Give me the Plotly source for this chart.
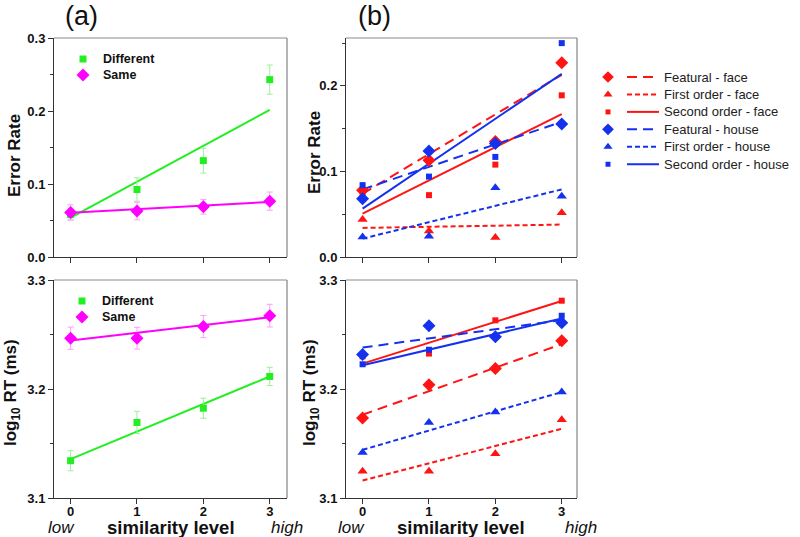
import plotly.graph_objects as go

# ---------------- data ----------------
levels = [0, 1, 2, 3]
fit_x = [0, 3]

# panel (a) error rate
a_err_diff = [0.058, 0.0925, 0.132, 0.243]
a_err_diff_sd = [0.007, 0.016, 0.017, 0.020]
a_err_same = [0.061, 0.063, 0.0687, 0.0765]
a_err_same_sd = [0.0105, 0.012, 0.010, 0.0125]
a_err_diff_fit = [0.054, 0.2015]
a_err_same_fit = [0.0607, 0.0755]

# panel (a) log RT
a_rt_diff = [3.1342, 3.1693, 3.1824, 3.2115]
a_rt_diff_sd = [0.0092, 0.0102, 0.0092, 0.0084]
a_rt_same = [3.2466, 3.2466, 3.2573, 3.2673]
a_rt_same_sd = [0.0102, 0.010, 0.0102, 0.0104]
a_rt_diff_fit = [3.1357, 3.2115]
a_rt_same_fit = [3.2444, 3.2658]

# panel (b) series names
b_names = ["Featural - face", "First order - face", "Second order - face",
           "Featural - house", "First order - house", "Second order - house"]

# panel (b) error rate
b_err_feat_face = [0.078, 0.113, 0.135, 0.227]
b_err_first_face = [0.0438, 0.0305, 0.0227, 0.0516]
b_err_second_face = [0.073, 0.0723, 0.108, 0.189]
b_err_feat_house = [0.068, 0.124, 0.1328, 0.1555]
b_err_first_house = [0.0234, 0.0242, 0.0809, 0.0711]
b_err_second_house = [0.084, 0.094, 0.117, 0.250]

b_err_feat_face_fit = [0.074, 0.213]
b_err_first_face_fit = [0.034, 0.0379]
b_err_second_face_fit = [0.0508, 0.167]
b_err_feat_house_fit = [0.079, 0.158]
b_err_first_house_fit = [0.0215, 0.079]
b_err_second_house_fit = [0.0566, 0.214]

# panel (b) log RT
b_rt_feat_face = [3.1733, 3.204, 3.2187, 3.2442]
b_rt_first_face = [3.1246, 3.1246, 3.1405, 3.1718]
b_rt_second_face = [3.2300, 3.2325, 3.263, 3.281]
b_rt_feat_house = [3.2316, 3.258, 3.2479, 3.2607]
b_rt_first_house = [3.1417, 3.1693, 3.1788, 3.1972]
b_rt_second_house = [3.2227, 3.236, 3.2485, 3.2672]

b_rt_feat_face_fit = [3.1764, 3.2411]
b_rt_first_face_fit = [3.116, 3.1635]
b_rt_second_face_fit = [3.2233, 3.2807]
b_rt_feat_house_fit = [3.238, 3.2632]
b_rt_first_house_fit = [3.1442, 3.1972]
b_rt_second_house_fit = [3.2218, 3.2647]

# ---------------- styles ----------------
GREEN = "#22ee22"
GREEN_E = "#9cef9c"
MAG = "#ff00ff"
MAG_E = "#ff9cff"
RED = "#ff1414"
BLUE = "#1432ee"
FONT = "Liberation Sans, Arial, sans-serif"
DASH_LONG = "10px,6px"
DASH_SHORT = "5px,3px"

W = 800.0
H = 537.0

fig = go.Figure()


def err_trace(x, y, sd, color, ecolor, symbol, size, xa, ya):
    fig.add_trace(go.Scatter(
        x=x, y=y, mode="markers", xaxis=xa, yaxis=ya, showlegend=False,
        marker=dict(symbol=symbol, size=size, color=color),
        error_y=dict(type="data", array=sd, color=ecolor, thickness=1, width=3)))


def line_trace(x, y, color, dash, xa, ya, width=2):
    fig.add_trace(go.Scatter(
        x=x, y=y, mode="lines", xaxis=xa, yaxis=ya, showlegend=False,
        line=dict(color=color, width=width, dash=dash)))


def mk_trace(x, y, color, symbol, size, xa, ya):
    fig.add_trace(go.Scatter(
        x=x, y=y, mode="markers", xaxis=xa, yaxis=ya, showlegend=False,
        marker=dict(symbol=symbol, size=size, color=color)))


# panel (a) top
line_trace(fit_x, a_err_diff_fit, GREEN, "solid", "x", "y")
line_trace(fit_x, a_err_same_fit, MAG, "solid", "x", "y")
err_trace(levels, a_err_diff, a_err_diff_sd, GREEN, GREEN_E, "square", 7, "x", "y")
err_trace(levels, a_err_same, a_err_same_sd, MAG, MAG_E, "diamond", 10, "x", "y")

# panel (a) bottom
line_trace(fit_x, a_rt_diff_fit, GREEN, "solid", "x3", "y3")
line_trace(fit_x, a_rt_same_fit, MAG, "solid", "x3", "y3")
err_trace(levels, a_rt_diff, a_rt_diff_sd, GREEN, GREEN_E, "square", 7, "x3", "y3")
err_trace(levels, a_rt_same, a_rt_same_sd, MAG, MAG_E, "diamond", 10, "x3", "y3")

# panel (b)
b_colors = [RED, RED, RED, BLUE, BLUE, BLUE]
b_symbols = ["diamond", "triangle-up", "square", "diamond", "triangle-up", "square"]
b_sizes = [10, 9, 6, 10, 9, 6]
b_dashes = [DASH_LONG, DASH_SHORT, "solid", DASH_LONG, DASH_SHORT, "solid"]

b_err = [b_err_feat_face, b_err_first_face, b_err_second_face,
         b_err_feat_house, b_err_first_house, b_err_second_house]
b_err_fit = [b_err_feat_face_fit, b_err_first_face_fit, b_err_second_face_fit,
             b_err_feat_house_fit, b_err_first_house_fit, b_err_second_house_fit]
b_rt = [b_rt_feat_face, b_rt_first_face, b_rt_second_face,
        b_rt_feat_house, b_rt_first_house, b_rt_second_house]
b_rt_fit = [b_rt_feat_face_fit, b_rt_first_face_fit, b_rt_second_face_fit,
            b_rt_feat_house_fit, b_rt_first_house_fit, b_rt_second_house_fit]

for i in range(6):
    line_trace(fit_x, b_err_fit[i], b_colors[i], b_dashes[i], "x2", "y2")
    line_trace(fit_x, b_rt_fit[i], b_colors[i], b_dashes[i], "x4", "y4")
for i in range(6):
    mk_trace(levels, b_err[i], b_colors[i], b_symbols[i], b_sizes[i], "x2", "y2")
    mk_trace(levels, b_rt[i], b_colors[i], b_symbols[i], b_sizes[i], "x4", "y4")

# ---------------- manual legends (pixel overlay axis) ----------------
annotations = []
legA = [("Different", GREEN, "square", 7), ("Same", MAG, "diamond", 10)]
for (ox, oy, tx) in [(83, 59, 101), (82, 301, 100)]:
    for k, (nm, col, sym, sz) in enumerate(legA):
        yy = oy + k * 16
        fig.add_trace(go.Scatter(x=[ox], y=[yy], mode="markers", xaxis="x5", yaxis="y5",
                                 showlegend=False, marker=dict(symbol=sym, size=sz, color=col)))
        annotations.append(dict(x=tx, y=yy, xref="x5", yref="y5", text=nm, showarrow=False,
                                xanchor="left", yanchor="middle",
                                font=dict(family=FONT, size=12.5, color="#111", weight="bold")))

leg_y0 = 77
leg_dy = 17.45
for i in range(6):
    yy = leg_y0 + i * leg_dy
    fig.add_trace(go.Scatter(x=[608], y=[yy], mode="markers", xaxis="x5", yaxis="y5",
                             showlegend=False,
                             marker=dict(symbol=b_symbols[i], size=b_sizes[i] - 1, color=b_colors[i])))
    fig.add_trace(go.Scatter(x=[627, 659], y=[yy, yy], mode="lines", xaxis="x5", yaxis="y5",
                             showlegend=False,
                             line=dict(color=b_colors[i], width=2, dash=b_dashes[i])))
    annotations.append(dict(x=662, y=yy, xref="x5", yref="y5", text=b_names[i], showarrow=False,
                            xanchor="left", yanchor="middle",
                            font=dict(family=FONT, size=13, color="#222")))

# ---------------- text labels ----------------
def ann(x, y, text, size, weight="normal", style="normal", angle=0, xanchor="center"):
    annotations.append(dict(x=x, y=y, xref="x5", yref="y5", text=text, showarrow=False,
                            xanchor=xanchor, yanchor="middle", textangle=angle,
                            font=dict(family=FONT, size=size, color="#111",
                                      weight=weight, style=style)))

ann(81, 16, "(a)", 27)
ann(374, 16, "(b)", 27)
ann(14, 156, "Error Rate", 17, weight="bold", angle=-90)
ann(314, 153, "Error Rate", 17, weight="bold", angle=-90)
ann(12, 393, "log<sub>10</sub> RT (ms)", 17, weight="bold", angle=-90)
ann(311, 393, "log<sub>10</sub> RT (ms)", 17, weight="bold", angle=-90)
for (lx, cx, hx) in [(61, 171, 287), (351, 461, 581)]:
    ann(lx, 527, "low", 17, style="italic")
    ann(cx, 527, "similarity level", 18.5, weight="bold")
    ann(hx, 527, "high", 17, style="italic")

fig.update_layout(annotations=annotations)

# ---------------- axes ----------------
def xdom(left, right):
    return [left / W, right / W]

def ydom(top, bot):
    return [1 - bot / H, 1 - top / H]

xa_dom = xdom(54, 287)
xb_dom = xdom(346, 577)
y_top = ydom(38, 257)
y_bot = ydom(280, 498)

AX = "#333333"
tickf = dict(family=FONT, size=13, color="#111", weight="bold")

def xax(dom, rng, anchor, labels):
    return dict(domain=dom, range=rng, anchor=anchor, tickmode="linear", tick0=0, dtick=1,
                showticklabels=labels, automargin=False, ticklabelstandoff=-4,
                ticks="outside", ticklen=5, tickwidth=1, tickcolor=AX,
                showline=True, linecolor=AX, linewidth=1, showgrid=False, zeroline=False,
                tickfont=tickf, fixedrange=True)

def yax(dom, rng, anchor, t0):
    return dict(domain=dom, range=rng, anchor=anchor, tickmode="linear", tick0=t0, dtick=0.1,
                tickformat=".1f", automargin=False,
                ticks="outside", ticklen=5, tickwidth=1, tickcolor=AX,
                minor=dict(tickmode="linear", tick0=t0, dtick=0.05, ticks="outside",
                           ticklen=3, tickcolor=AX, showgrid=False),
                showline=True, linecolor=AX, linewidth=1, showgrid=False, zeroline=False,
                tickfont=tickf, fixedrange=True)

fig.update_layout(
    width=800, height=537,
    margin=dict(l=0, r=0, t=0, b=0, pad=0, autoexpand=False),
    paper_bgcolor="white", plot_bgcolor="rgba(0,0,0,0)",
    showlegend=False,
    xaxis=xax(xa_dom, [-0.25, 3.26], "y", False),
    yaxis=yax(y_top, [0, 0.3], "x", 0),
    xaxis2=xax(xb_dom, [-0.25, 3.23], "y2", False),
    yaxis2=yax(y_top, [0, 0.256], "x2", 0),
    xaxis3=xax(xa_dom, [-0.25, 3.26], "y3", True),
    yaxis3=yax(y_bot, [3.1, 3.3], "x3", 3.1),
    xaxis4=xax(xb_dom, [-0.25, 3.23], "y4", True),
    yaxis4=yax(y_bot, [3.1, 3.3], "x4", 3.1),
    xaxis5=dict(domain=[0, 1], range=[0, 800], anchor="y5", visible=False,
                fixedrange=True, automargin=False),
    yaxis5=dict(domain=[0, 1], range=[537, 0], anchor="x5", visible=False,
                fixedrange=True, automargin=False),
)

# lighter top/right frame lines
shapes = []
for xr, yr in [("x", "y"), ("x2", "y2"), ("x3", "y3"), ("x4", "y4")]:
    shapes.append(dict(type="line", xref=xr + " domain", yref=yr + " domain",
                       x0=0, x1=1, y0=1, y1=1, line=dict(color="#8a8a8a", width=1)))
    shapes.append(dict(type="line", xref=xr + " domain", yref=yr + " domain",
                       x0=1, x1=1, y0=0, y1=1, line=dict(color="#6a6a6a", width=1)))
fig.update_layout(shapes=shapes)

fig.write_html(
    "out.html",
    config={"displayModeBar": False, "staticPlot": True},
    post_script="document.body.style.margin='0px';document.body.style.overflow='hidden';",
)
